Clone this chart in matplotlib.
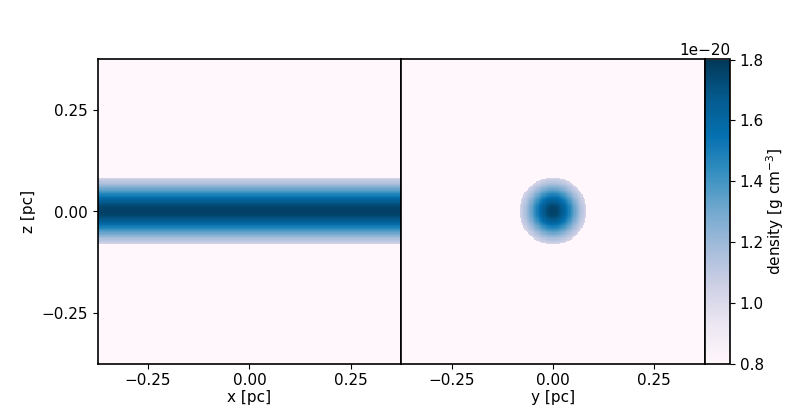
import numpy as np
import matplotlib
matplotlib.use("Agg")
import matplotlib.pyplot as plt

# Radial density profile of the filament, units 1e-20 g cm^-3
radius_pc = [0.00, 0.01, 0.02, 0.03, 0.04, 0.05, 0.06, 0.07, 0.08, 0.083]
density_e20 = [1.77, 1.75, 1.69, 1.60, 1.49, 1.37, 1.25, 1.14, 1.05, 1.03]
background_e20 = 0.5
half_box_pc = 0.375
xticks = [-0.25, 0.0, 0.25]
yticks = [-0.25, 0.0, 0.25]
cbar_ticks = [0.8e-20, 1.0e-20, 1.2e-20, 1.4e-20, 1.6e-20, 1.8e-20]
vmin, vmax = 0.8e-20, 1.8e-20

plt.rcParams['font.size'] = 11

n = 256
c = np.linspace(-half_box_pc, half_box_pc, n)
A, Z = np.meshgrid(c, c)

def dens(r):
    d = np.interp(r, radius_pc, density_e20)
    d = np.where(r <= radius_pc[-1], d, background_e20)
    return d * 1e-20

left_img = dens(np.abs(Z))
right_img = dens(np.sqrt(A**2 + Z**2))

fig = plt.figure(figsize=(7.85, 4.19), dpi=100)
W, H = 785, 419
bot = (H - 363.5) / H
hgt = 304 / H
pw = 303.75 / W
ax1 = fig.add_axes([97.5 / W, bot, pw, hgt])
ax2 = fig.add_axes([(97.5 + 303.75) / W, bot, pw, hgt])
cax = fig.add_axes([705 / W, bot, 25 / W, hgt])

ext = [-half_box_pc, half_box_pc, -half_box_pc, half_box_pc]
im = ax1.imshow(left_img, origin='lower', extent=ext, cmap='PuBu', vmin=vmin, vmax=vmax,
                interpolation='nearest', aspect='auto')
ax2.imshow(right_img, origin='lower', extent=ext, cmap='PuBu', vmin=vmin, vmax=vmax,
           interpolation='nearest', aspect='auto')

for ax in (ax1, ax2):
    ax.set_xticks(xticks)
    for s in ax.spines.values():
        s.set_linewidth(1.2)
ax1.set_yticks(yticks)
ax2.set_yticks([])
ax1.set_xlabel('x [pc]', labelpad=1)
ax2.set_xlabel('y [pc]', labelpad=1)
ax1.set_ylabel('z [pc]')

cb = fig.colorbar(im, cax=cax, ticks=cbar_ticks)
cb.set_label('density [g cm$^{-3}$]', labelpad=0)
cb.outline.set_linewidth(1.2)

fig.savefig('out.png', dpi=100)
